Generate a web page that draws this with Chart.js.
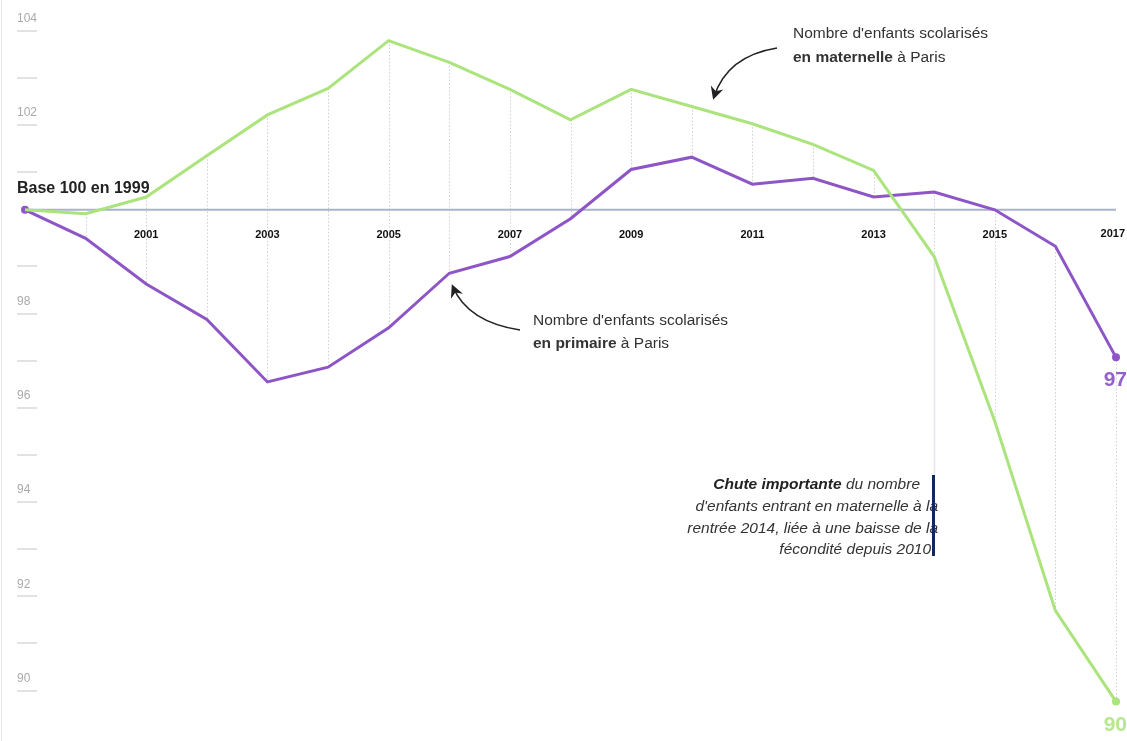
<!DOCTYPE html>
<html lang="fr">
<head>
<meta charset="UTF-8">
<title>Enfants scolarisés à Paris</title>
<script src="https://cdn.jsdelivr.net/npm/chart.js"></script>
<style>
    html, body { margin: 0; padding: 0; background: #fff; }
    #wrap { width: 1127px; height: 741px; position: relative; }
</style>
</head>
<body>
<div id="wrap"><canvas id="chart"></canvas></div>
<script>
    const years = ['1999', '2000', '2001', '2002', '2003', '2004', '2005', '2006', '2007', '2008',
                   '2009', '2010', '2011', '2012', '2013', '2014', '2015', '2016', '2017'];
    // base 100 en 1999
    const maternelle = [100, 99.92, 100.26, 101.1, 101.93, 102.47, 103.44, 103.0, 102.45, 101.83,
                        102.45, 102.1, 101.75, 101.33, 100.8, 99.05, 95.7, 91.85, 90];
    const primaire = [100, 99.42, 98.49, 97.77, 96.5, 96.8, 97.6, 98.71, 99.05, 99.82,
                      100.82, 101.07, 100.52, 100.64, 100.26, 100.36, 100, 99.26, 97];
    const yearLabels = ['', '', '2001', '', '2003', '', '2005', '', '2007', '',
                        '2009', '', '2011', '', '2013', '', '2015', '', '2017'];
    const yTickValues = [104, 102, 98, 96, 94, 92, 90];
    const yDashValues = [104, 103, 102, 101, 99, 98, 97, 96, 95, 94, 93, 92, 91, 90];

    const GREEN = '#abe37c';
    const PURPLE = '#8d55c6';
    const FONT = '"Liberation Sans", Arial, sans-serif';

    function arrow(ctx, x0, y0, cx, cy, x1, y1) {
        ctx.save();
        ctx.strokeStyle = '#222';
        ctx.fillStyle = '#222';
        ctx.lineWidth = 1.6;
        ctx.beginPath();
        ctx.moveTo(x0, y0);
        ctx.quadraticCurveTo(cx, cy, x1, y1);
        ctx.stroke();
        const a = Math.atan2(y1 - cy, x1 - cx);
        ctx.translate(x1, y1);
        ctx.rotate(a);
        ctx.beginPath();
        ctx.moveTo(3, 0);
        ctx.lineTo(-10, -6.5);
        ctx.lineTo(-6, 0);
        ctx.lineTo(-10, 6.5);
        ctx.closePath();
        ctx.fill();
        ctx.restore();
    }

    const decorations = {
        id: 'decorations',
        beforeDatasetsDraw(chart) {
            const ctx = chart.ctx;
            const x = chart.scales.x;
            const y = chart.scales.y;
            const yl = chart.scales.yLab;
            const area = chart.chartArea;
            ctx.save();

            // left border
            ctx.strokeStyle = '#e6e6e6';
            ctx.lineWidth = 1;
            ctx.beginPath();
            ctx.moveTo(1.5, 0);
            ctx.lineTo(1.5, chart.height);
            ctx.stroke();

            // y tick dashes and labels
            ctx.strokeStyle = '#e2e2e2';
            ctx.lineWidth = 2;
            yDashValues.forEach(v => {
                const py = Math.round(yl.getPixelForValue(v)) + 12;
                ctx.beginPath();
                ctx.moveTo(17, py);
                ctx.lineTo(37, py);
                ctx.stroke();
            });
            ctx.fillStyle = '#aaa';
            ctx.font = '12px ' + FONT;
            ctx.textAlign = 'left';
            ctx.textBaseline = 'middle';
            yTickValues.forEach(v => {
                ctx.fillText(String(v), 17, yl.getPixelForValue(v));
            });

            // dotted verticals between the two series
            ctx.strokeStyle = '#cfcfcf';
            ctx.lineWidth = 1;
            ctx.setLineDash([1.5, 2]);
            years.forEach((yr, i) => {
                if (i === 0) return;
                const px = Math.round(x.getPixelForValue(i)) + 0.5;
                ctx.beginPath();
                ctx.moveTo(px, y.getPixelForValue(maternelle[i]));
                ctx.lineTo(px, y.getPixelForValue(primaire[i]));
                ctx.stroke();
            });
            ctx.setLineDash([]);

            // connector for 2014 annotation
            const i14 = years.indexOf('2014');
            const p14 = Math.round(x.getPixelForValue(i14)) + 0.5;
            ctx.strokeStyle = '#e4e4f0';
            ctx.lineWidth = 1.5;
            ctx.beginPath();
            ctx.moveTo(p14, y.getPixelForValue(maternelle[i14]));
            ctx.lineTo(p14, 476);
            ctx.stroke();

            // base 100 line
            const b = y.getPixelForValue(100);
            ctx.strokeStyle = '#aab3cc';
            ctx.lineWidth = 2;
            ctx.beginPath();
            ctx.moveTo(area.left, b);
            ctx.lineTo(x.getPixelForValue(years.length - 1), b);
            ctx.stroke();

            // year labels
            ctx.fillStyle = '#111';
            ctx.font = 'bold 11px ' + FONT;
            ctx.textBaseline = 'middle';
            yearLabels.forEach((lab, i) => {
                if (!lab) return;
                const last = i === years.length - 1;
                ctx.textAlign = last ? 'right' : 'center';
                ctx.fillText(lab, last ? 1125 : x.getPixelForValue(i), b + (last ? 24 : 25));
            });

            ctx.restore();
        },
        afterDatasetsDraw(chart) {
            const ctx = chart.ctx;
            const y = chart.scales.y;
            ctx.save();

            ctx.fillStyle = '#222';
            ctx.font = 'bold 16px ' + FONT;
            ctx.textAlign = 'left';
            ctx.textBaseline = 'middle';
            ctx.fillText('Base 100 en 1999', 17, 189);

            // series annotations
            ctx.fillStyle = '#333';
            ctx.font = '15.5px ' + FONT;
            ctx.fillText("Nombre d'enfants scolarisés", 793, 34);
            ctx.fillText("Nombre d'enfants scolarisés", 533, 321);
            ctx.font = 'bold 15.5px ' + FONT;
            const w = ctx.measureText('en maternelle').width;
            const w2 = ctx.measureText('en primaire').width;
            ctx.fillText('en maternelle', 793, 58);
            ctx.fillText('en primaire', 533, 344);
            ctx.font = '15.5px ' + FONT;
            ctx.fillText(' à Paris', 793 + w, 58);
            ctx.fillText(' à Paris', 533 + w2, 344);

            arrow(ctx, 777, 48, 727, 56, 714, 97);
            arrow(ctx, 520, 330, 468, 322, 453, 287);

            // 2014 drop annotation
            ctx.textAlign = 'right';
            ctx.fillStyle = '#333';
            ctx.font = 'italic 15.5px ' + FONT;
            const tail = ' du nombre';
            const tw = ctx.measureText(tail).width;
            ctx.fillText(tail, 920, 485);
            ctx.font = 'italic bold 15.5px ' + FONT;
            ctx.fillStyle = '#222';
            ctx.fillText('Chute importante', 920 - tw, 485);
            ctx.fillStyle = '#333';
            ctx.font = 'italic 15.5px ' + FONT;
            ctx.fillText("d'enfants entrant en maternelle à la", 938, 507);
            ctx.fillText('rentrée 2014, liée à une baisse de la', 938, 529);
            ctx.fillText('fécondité depuis 2010', 931, 550);
            ctx.fillStyle = '#0d2a5c';
            ctx.fillRect(932, 475, 3, 81);

            // end values
            const last = years.length - 1;
            ctx.font = 'bold 21px ' + FONT;
            ctx.textAlign = 'right';
            ctx.fillStyle = '#9361ca';
            ctx.fillText(String(primaire[last]), 1127, y.getPixelForValue(primaire[last]) + 23);
            ctx.fillStyle = '#b7e78f';
            ctx.fillText(String(maternelle[last]), 1127, y.getPixelForValue(maternelle[last]) + 24);

            ctx.restore();
        }
    };

    new Chart(document.getElementById('chart'), {
        type: 'line',
        data: {
            labels: years,
            datasets: [{
                label: 'Maternelle',
                data: maternelle,
                borderColor: GREEN,
                backgroundColor: GREEN,
                borderWidth: 3,
                pointRadius: years.map((yr, i) => (i === years.length - 1 ? 4 : 0)),
                pointBorderWidth: 0,
                tension: 0
            }, {
                label: 'Primaire',
                data: primaire,
                borderColor: PURPLE,
                backgroundColor: PURPLE,
                borderWidth: 3,
                pointRadius: years.map((yr, i) => (i === 0 || i === years.length - 1 ? 4 : 0)),
                pointBorderWidth: 0,
                tension: 0
            }]
        },
        options: {
            responsive: true,
            maintainAspectRatio: false,
            animation: false,
            layout: { padding: { left: 25, right: 11, top: 0, bottom: 0 } },
            plugins: { legend: { display: false }, tooltip: { enabled: false } },
            scales: {
                x: { display: false, offset: false },
                y: { display: false, min: 89.28, max: 104.185 },
                yLab: { display: false, position: 'left', min: 88.76, max: 104.315 }
            }
        },
        plugins: [decorations]
    });
</script>
</body>
</html>
